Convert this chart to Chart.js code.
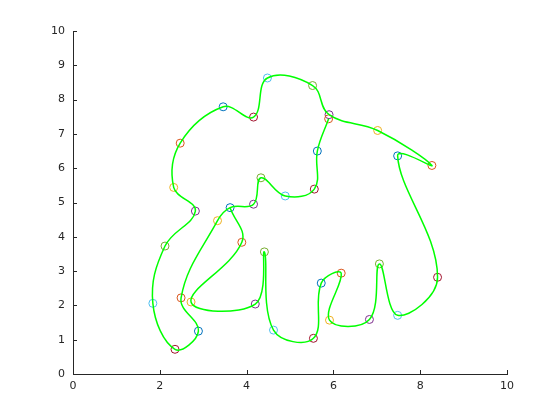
<!DOCTYPE html>
<html>
<head>
    <meta charset="UTF-8">
    <title>Elephant</title>
    <style>
        body { margin: 0; background: #fff; }
        #myChart { display: block; }
    </style>
</head>
<body>
    <canvas id="myChart" width="560" height="420"></canvas>
    <script src="https://cdn.jsdelivr.net/npm/chart.js"></script>
    <script>
        // control points (in drawing order)
        const ptX = [3.62, 3.89, 2.72, 4.20, 4.41, 4.62, 5.54, 5.72, 6.18, 5.91,
                     6.83, 7.06, 7.48, 8.40, 7.48, 8.27, 7.02, 5.90, 5.52, 4.48,
                     4.16, 3.46, 2.47, 2.32, 2.82, 2.12, 1.84, 2.35, 2.89, 2.49,
                     3.33, 4.16, 4.33, 4.89, 5.56, 5.63, 5.89];
        const ptY = [4.85, 3.84, 2.10, 2.04, 3.56, 1.28, 1.04, 2.65, 2.94, 1.57,
                     1.59, 3.21, 1.71, 2.82, 6.36, 6.08, 7.10, 7.56, 8.41, 8.63,
                     7.49, 7.79, 6.73, 5.44, 4.75, 3.73, 2.06, 0.72, 1.25, 2.22,
                     4.47, 4.95, 5.72, 5.19, 5.39, 6.50, 7.44];
        // the curve goes back through the first point before the last stretch
        const curveOrder = [0, 1, 2, 3, 4, 5, 6, 7, 8, 9, 10, 11, 12, 13, 14, 15,
                            16, 17, 18, 19, 20, 21, 22, 23, 24, 25, 26, 27, 28, 29,
                            30, 0, 31, 32, 33, 34, 35, 36];
        const xTicks = [0, 2, 4, 6, 8, 10];
        const yTicks = [0, 1, 2, 3, 4, 5, 6, 7, 8, 9, 10];

        const colorOrder = ['#0072BD', '#D95319', '#EDB120', '#7E2F8E', '#77AC30', '#4DBEEE', '#A2142F'];

        const curve = curveOrder.map(i => ({ x: ptX[i], y: ptY[i] }));
        const points = ptX.map((x, i) => ({ x: x, y: ptY[i] }));
        const markerColors = ptX.map((x, i) => colorOrder[i % colorOrder.length]);

        // small inward tick marks, like the original axes
        const innerTicks = {
            id: 'innerTicks',
            afterDraw(chart) {
                const c = chart.ctx, a = chart.chartArea;
                const sx = chart.scales.x, sy = chart.scales.y;
                c.save();
                c.strokeStyle = '#262626';
                c.lineWidth = 1;
                c.beginPath();
                xTicks.forEach(t => {
                    const px = Math.round(sx.getPixelForValue(t)) + 0.5;
                    c.moveTo(px, a.bottom);
                    c.lineTo(px, a.bottom - 4);
                });
                yTicks.forEach(t => {
                    const py = Math.round(sy.getPixelForValue(t)) + 0.5;
                    c.moveTo(a.left, py);
                    c.lineTo(a.left + 4, py);
                });
                c.stroke();
                c.restore();
            }
        };

        const ctx = document.getElementById('myChart').getContext('2d');
        const myChart = new Chart(ctx, {
            type: 'scatter',
            data: {
                datasets: [{
                    label: 'curve',
                    data: curve,
                    showLine: true,
                    borderColor: '#00FF00',
                    borderWidth: 1.5,
                    tension: 0.4,
                    pointRadius: 0,
                    fill: false
                },
                {
                    label: 'points',
                    data: points,
                    showLine: false,
                    pointRadius: 4,
                    pointBorderWidth: 1,
                    pointBorderColor: markerColors,
                    pointBackgroundColor: 'rgba(0,0,0,0)'
                }]
            },
            options: {
                responsive: false,
                animation: false,
                devicePixelRatio: 1,
                layout: { padding: { left: 0, right: 53, top: 31, bottom: 0 } },
                plugins: {
                    legend: { display: false },
                    tooltip: { enabled: false }
                },
                scales: {
                    x: {
                        type: 'linear',
                        min: 0,
                        max: 10,
                        afterBuildTicks: s => { s.ticks = xTicks.map(v => ({ value: v })); },
                        afterFit: s => { s.height = 46; },
                        grid: { display: false, drawTicks: false },
                        border: { display: true, color: '#262626', width: 1 },
                        ticks: {
                            color: '#262626',
                            padding: 6,
                            maxRotation: 0,
                            font: { family: 'DejaVu Sans', size: 11 }
                        }
                    },
                    y: {
                        type: 'linear',
                        min: 0,
                        max: 10,
                        afterBuildTicks: s => { s.ticks = yTicks.map(v => ({ value: v })); },
                        afterFit: s => { s.width = 73; },
                        grid: { display: false, drawTicks: false },
                        border: { display: true, color: '#262626', width: 1 },
                        ticks: {
                            color: '#262626',
                            padding: 8,
                            font: { family: 'DejaVu Sans', size: 11 }
                        }
                    }
                }
            },
            plugins: [innerTicks]
        });
    </script>
</body>
</html>
